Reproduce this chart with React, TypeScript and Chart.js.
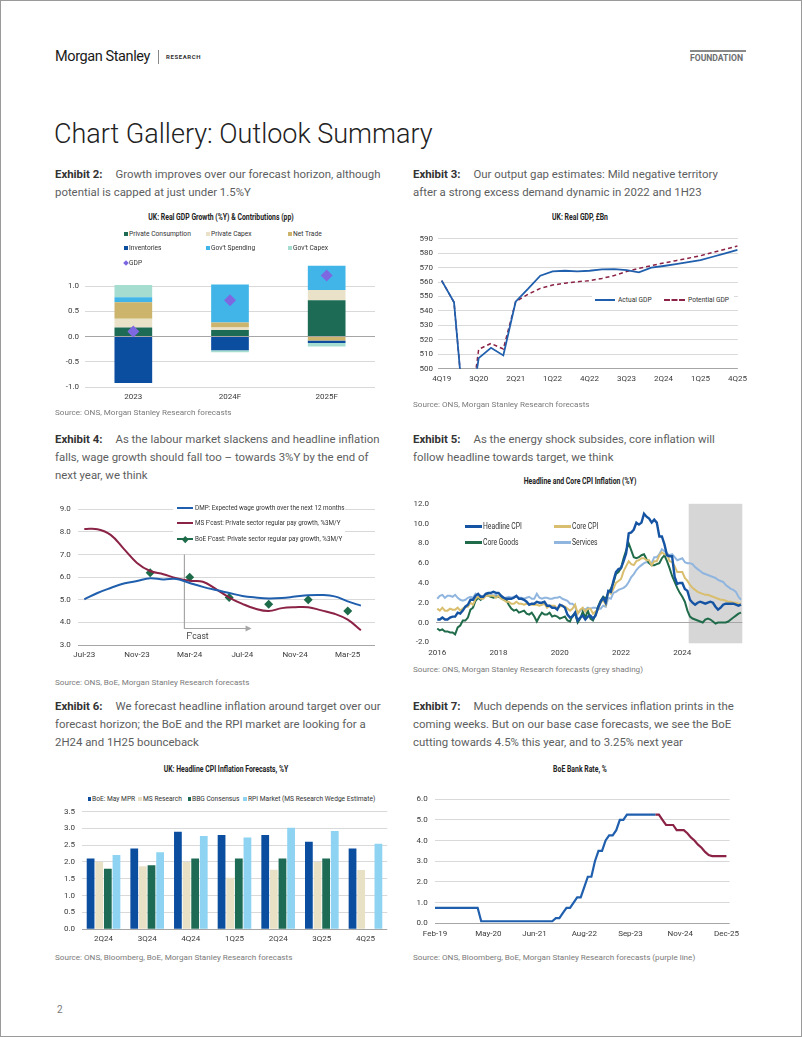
import React, { useEffect, useRef } from 'react';
import { Chart, registerables } from 'chart.js';

Chart.register(...registerables);

const BODY_FONT = "Roboto, 'Noto Sans', 'DejaVu Sans', sans-serif";
const CHART_FONT = "Roboto, 'Noto Sans', sans-serif";
Chart.defaults.font.family = CHART_FONT;
Chart.defaults.font.size = 8;
Chart.defaults.color = '#404040';

const GRID = '#d9d9d9';
const AXIS = '#a6a6a6';
const CONDENSE = 0.83;

// ---------------- Exhibit 2 data ----------------
const gdpYears = ['2023', '2024F', '2025F'];
const gdpSeriesNames = ['Private Consumption', 'Private Capex', 'Net Trade', 'Inventories', "Gov't Spending", "Gov't Capex"];
const contribPrivateConsumption = [0.18, 0.13, 0.72];
const contribPrivateCapex = [0.17, 0.05, 0.2];
const contribNetTrade = [0.33, 0.1, -0.08];
const contribInventories = [-0.92, -0.27, -0.05];
const contribGovSpending = [0.1, 0.75, 0.48];
const contribGovCapex = [0.24, -0.04, -0.07];
const gdpGrowth = [0.1, 0.72, 1.21];
const gdpColors = ['#1E6B55', '#E9E2C8', '#CDB46C', '#0B4EA0', '#41B5E8', '#A5DDD1'];
const gdpDiamondColor = '#7E68E2';

// ---------------- Exhibit 3 data ----------------
const gdpQuarters = ['4Q19', '1Q20', '2Q20', '3Q20', '4Q20', '1Q21', '2Q21', '3Q21', '4Q21', '1Q22', '2Q22', '3Q22', '4Q22', '1Q23', '2Q23', '3Q23', '4Q23', '1Q24', '2Q24', '3Q24', '4Q24', '1Q25', '2Q25', '3Q25', '4Q25'];
const gdpQuarterTicks = ['4Q19', '3Q20', '2Q21', '1Q22', '4Q22', '3Q23', '2Q24', '1Q25', '4Q25'];
const actualGdp = [561, 546, 450, 507.3, 514.5, 509.2, 546.4, 555.2, 564.4, 567.4, 567.8, 567.4, 567.8, 568.8, 569.0, 568.3, 566.7, 569.9, 571.1, 572.4, 573.8, 575.2, 577.5, 579.8, 582.2];
const potentialGdp = [561, 546, 450, 513.4, 517.5, 513.6, 546.4, 551.5, 555.6, 557.9, 559.2, 560.2, 560.9, 562.5, 564.5, 567.3, 569.5, 571.3, 573.2, 574.8, 576.5, 578.2, 580.5, 582.7, 584.9];

// ---------------- Exhibit 4 data ----------------
const wageMonths = ['Jul-23', 'Aug-23', 'Sep-23', 'Oct-23', 'Nov-23', 'Dec-23', 'Jan-24', 'Feb-24', 'Mar-24', 'Apr-24', 'May-24', 'Jun-24', 'Jul-24', 'Aug-24', 'Sep-24', 'Oct-24', 'Nov-24', 'Dec-24', 'Jan-25', 'Feb-25', 'Mar-25', 'Apr-25'];
const wageTickMonths = ['Jul-23', 'Nov-23', 'Mar-24', 'Jul-24', 'Nov-24', 'Mar-25'];
const dmpExpectedWage = [5.02, 5.3, 5.52, 5.72, 5.83, 5.95, 5.9, 5.92, 5.74, 5.57, 5.43, 5.3, 5.17, 5.1, 5.06, 5.08, 5.14, 5.2, 5.21, 5.15, 4.93, 4.74];
const msPayForecast = [8.13, 8.12, 7.87, 7.25, 6.63, 6.27, 6.13, 5.95, 5.84, 5.8, 5.47, 5.1, 4.82, 4.6, 4.5, 4.63, 4.67, 4.67, 4.53, 4.38, 4.12, 3.65];
const boeWageMonths = ['Dec-23', 'Mar-24', 'Jun-24', 'Sep-24', 'Dec-24', 'Mar-25'];
const boePayForecast = [6.2, 6.0, 5.1, 4.8, 5.0, 4.5];
const wageSeriesNames = ['DMP: Expected wage growth over the next 12 months', "MS F'cast: Private sector regular pay growth, %3M/Y", "BoE F'cast: Private sector regular pay growth, %3M/Y"];
const wageColors = ['#1F5FAD', '#8B2346', '#1E6B4A'];
const fcastFrom = 7.6; // forecast marker position (between Feb-24 and Mar-24)
const fcastTo = 12.7;

// ---------------- Exhibit 5 data ----------------
const cpiStartYear = 2016;
const cpiTickYears = ['2016', '2018', '2020', '2022', '2024'];
const cpiForecastStart = 98.5; // forecast shading from end of Mar-2024
const cpiHeadline = [
  0.3, 0.3, 0.5, 0.3, 0.3, 0.5, 0.6, 0.6, 1.0, 0.9, 1.2, 1.6,
  1.8, 2.3, 2.3, 2.7, 2.9, 2.6, 2.6, 2.9, 3.0, 3.0, 3.1, 3.0,
  3.0, 2.7, 2.5, 2.4, 2.4, 2.4, 2.5, 2.7, 2.4, 2.4, 2.3, 2.1,
  1.8, 1.9, 1.9, 2.1, 2.0, 2.0, 2.1, 1.7, 1.7, 1.5, 1.5, 1.3,
  1.8, 1.7, 1.5, 0.8, 0.5, 0.6, 1.0, 0.2, 0.5, 0.7, 0.3, 0.6,
  0.7, 0.4, 0.7, 1.5, 2.1, 2.5, 2.0, 3.2, 3.1, 4.2, 5.1, 5.4,
  5.5, 6.2, 7.0, 9.0, 9.1, 9.4, 10.1, 9.9, 10.1, 11.0, 10.7, 10.5,
  10.1, 10.4, 10.1, 8.7, 8.7, 7.9, 6.8, 6.7, 6.7, 4.6, 3.9, 4.0,
  4.0, 3.4, 3.2, 2.3, 2.0, 1.8, 2.0, 2.1, 2.0, 1.9, 2.0, 2.1,
  2.0, 1.6, 1.3, 1.5, 1.8, 1.9, 1.9, 1.9, 1.9, 1.8, 1.7, 1.8,
];
const cpiCore = [
  1.4, 1.2, 1.5, 1.2, 1.2, 1.4, 1.3, 1.3, 1.5, 1.2, 1.4, 1.6,
  1.6, 2.0, 1.8, 2.4, 2.6, 2.4, 2.4, 2.7, 2.7, 2.7, 2.7, 2.5,
  2.7, 2.4, 2.3, 2.1, 2.1, 1.9, 1.9, 2.1, 1.9, 1.9, 1.8, 1.9,
  1.9, 1.8, 1.8, 1.8, 1.7, 1.8, 1.9, 1.5, 1.7, 1.7, 1.7, 1.4,
  1.6, 1.7, 1.6, 1.4, 1.2, 1.4, 1.8, 0.9, 1.3, 1.5, 1.1, 1.4,
  1.4, 0.9, 1.1, 1.3, 2.0, 2.3, 1.8, 3.1, 2.9, 3.4, 4.0, 4.2,
  4.4, 5.2, 5.7, 6.2, 5.9, 5.8, 6.2, 6.3, 6.5, 6.5, 6.3, 6.3,
  5.8, 6.2, 6.2, 6.8, 7.1, 6.9, 6.9, 6.2, 6.1, 5.7, 5.1, 5.1,
  5.1, 4.5, 4.2, 3.8, 3.5, 3.3, 3.1, 3.0, 2.9, 2.8, 2.8, 2.7,
  2.6, 2.5, 2.4, 2.3, 2.3, 2.2, 2.1, 2.1, 2.0, 2.0, 1.9, 1.9,
];
const cpiCoreGoods = [
  -0.6, -0.8, -0.7, -0.9, -0.9, -1.0, -1.0, -1.2, -0.5, -0.3, 0.2, 0.2,
  0.5, 1.3, 1.5, 2.2, 2.5, 2.3, 2.6, 2.8, 2.7, 2.6, 2.5, 2.6,
  2.6, 2.5, 2.3, 2.3, 1.8, 1.4, 1.2, 1.3, 1.0, 1.1, 1.2, 0.9,
  0.8, 1.0, 0.6, 0.1, 0.6, 1.0, 0.8, 0.8, 1.0, 0.6, 0.7, 0.6,
  0.4, 0.5, 0.6, 0.2, 0.1, 0.7, 0.9, 0.0, 0.4, 1.1, 0.5, 1.2,
  0.4, 0.2, 0.8, 1.6, 2.2, 2.6, 2.4, 3.0, 3.4, 4.0, 4.9, 5.1,
  5.5, 6.5, 7.3, 8.0, 7.3, 6.6, 6.5, 6.6, 6.8, 6.9, 6.4, 6.0,
  5.8, 5.8, 5.9, 6.0, 6.5, 6.8, 6.2, 5.5, 4.7, 4.1, 3.5, 3.0,
  2.6, 2.1, 1.2, 0.6, 0.4, 0.3, 0.2, 0.1, 0.0, 0.3, 0.4, 0.3,
  0.1, -0.1, 0.0, 0.0, 0.0, 0.0, 0.1, 0.3, 0.5, 0.7, 0.9, 1.0,
];
const cpiServices = [
  2.4, 2.7, 2.8, 2.5, 2.7, 2.7, 2.6, 2.8, 2.5, 2.3, 2.2, 2.3,
  2.5, 2.6, 2.5, 2.9, 2.7, 2.7, 2.6, 2.7, 2.8, 2.8, 2.7, 2.8,
  2.7, 2.6, 2.5, 2.5, 2.6, 2.5, 2.6, 2.6, 2.5, 2.5, 2.4, 2.5,
  2.6, 2.4, 2.4, 2.9, 2.5, 2.4, 2.5, 2.5, 2.4, 2.4, 2.5, 2.5,
  2.6, 2.4, 2.3, 2.2, 1.9, 1.9, 1.6, 0.9, 1.2, 1.4, 1.3, 1.5,
  1.4, 1.5, 1.5, 1.4, 1.4, 1.7, 1.6, 2.5, 2.4, 3.0, 3.1, 3.3,
  3.4, 3.5, 3.7, 4.1, 4.6, 4.9, 5.3, 5.6, 5.8, 6.0, 6.1, 6.0,
  6.0, 6.6, 6.6, 6.9, 7.4, 7.2, 7.0, 6.8, 6.9, 6.6, 6.3, 6.4,
  6.5, 6.1, 6.0, 6.0, 5.9, 5.6, 5.4, 5.2, 5.0, 4.9, 4.8, 4.7,
  4.6, 4.5, 4.3, 4.2, 4.1, 3.8, 3.6, 3.4, 3.3, 3.1, 2.6, 2.3,
];
const cpiSeriesNames = ['Headline CPI', 'Core CPI', 'Core Goods', 'Services'];
const cpiColors = ['#1553A3', '#D8BE6E', '#1F6B4A', '#90B6DF'];

// ---------------- Exhibit 6 data ----------------
const cpiFcQuarters = ['2Q24', '3Q24', '4Q24', '1Q25', '2Q24', '3Q25', '4Q25'];
const fcBoeMpr = [2.1, 2.4, 2.9, 2.8, 2.8, 2.6, 2.4];
const fcMsResearch = [2.0, 1.87, 2.0, 1.53, 1.77, 2.0, 1.76];
const fcBbgConsensus = [1.8, 1.9, 2.1, 2.1, 2.1, 2.1, null];
const fcRpiMarket = [2.21, 2.29, 2.77, 2.73, 3.02, 2.92, 2.54];
const fcSeriesNames = ['BoE: May MPR', 'MS Research', 'BBG Consensus', 'RPI Market (MS Research Wedge Estimate)'];
const fcColors = ['#0B4EA0', '#E9E1C6', '#1E6B55', '#8ED3F2'];

// ---------------- Exhibit 7 data ----------------
const MONTH_NAMES = ['Jan', 'Feb', 'Mar', 'Apr', 'May', 'Jun', 'Jul', 'Aug', 'Sep', 'Oct', 'Nov', 'Dec'];
const bankRateMonths = Array.from({ length: 83 }, (_, i) => `${MONTH_NAMES[(1 + i) % 12]}-${String(2019 + Math.floor((1 + i) / 12)).slice(2)}`);
const bankRateTicks = ['Feb-19', 'May-20', 'Jun-21', 'Aug-22', 'Sep-23', 'Nov-24', 'Dec-25'];
const bankRateActualStart = 'Feb-19';
const bankRateActual = [
  0.75, 0.75, 0.75, 0.75, 0.75, 0.75, 0.75, 0.75, 0.75, 0.75, 0.75, 0.75, 0.75,
  0.1, 0.1, 0.1, 0.1, 0.1, 0.1, 0.1, 0.1, 0.1, 0.1, 0.1, 0.1, 0.1, 0.1, 0.1, 0.1, 0.1, 0.1, 0.1, 0.1, 0.1,
  0.25, 0.25, 0.5, 0.75, 0.75, 1.0, 1.25, 1.25, 1.75, 2.25, 2.25, 3.0, 3.5, 3.5, 4.0, 4.25, 4.25, 4.5, 5.0, 5.0,
  5.25, 5.25, 5.25, 5.25, 5.25, 5.25, 5.25, 5.25, 5.25,
];
const bankRateForecastStart = 'Apr-24';
const bankRateForecast = [5.25, 5.25, 5.0, 4.75, 4.75, 4.75, 4.5, 4.5, 4.5, 4.35, 4.15, 4.0, 3.8, 3.65, 3.45, 3.3, 3.25, 3.25, 3.25, 3.25, 3.25];

// ---------------- helpers ----------------
const toXY = (vals: (number | null)[], start = 0) => vals.map((v, i) => ({ x: start + i, y: v }));

function baseOptions(padding: any) {
  return {
    responsive: false,
    animation: false,
    devicePixelRatio: 1,
    events: [],
    layout: { padding },
    plugins: { legend: { display: false }, tooltip: { enabled: false }, title: { display: false } },
  };
}

function yAxis(o: { min: number; max: number; step: number; width: number; pad: number; base: number; decimals?: number; hideGrid?: boolean; maxTick?: number }) {
  return {
    min: o.min,
    max: o.max,
    afterBuildTicks: (ax: any) => {
      if (o.maxTick !== undefined) ax.ticks = ax.ticks.filter((t: any) => t.value <= o.maxTick! + 1e-9);
    },
    ticks: { stepSize: o.step, padding: o.pad, color: '#3a3a3a', font: { size: 8 }, callback: (v: any) => Number(v).toFixed(o.decimals ?? 1) },
    grid: {
      drawTicks: false,
      lineWidth: 1,
      color: (ctx: any) => (ctx.tick && Math.abs(ctx.tick.value - o.base) < 1e-9 ? AXIS : o.hideGrid ? 'rgba(0,0,0,0)' : GRID),
    },
    border: { display: false },
    afterFit: (s: any) => { s.width = o.width; },
  };
}

function xLinear(o: { min: number; max: number; ticks: number[]; label: (v: number) => string; height: number; pad: number }) {
  return {
    type: 'linear',
    min: o.min,
    max: o.max,
    afterBuildTicks: (ax: any) => { ax.ticks = o.ticks.map((v) => ({ value: v })); },
    ticks: { autoSkip: false, maxRotation: 0, padding: o.pad, color: '#3a3a3a', font: { size: 8 }, callback: (v: any) => o.label(Number(v)) },
    grid: { display: false, drawTicks: false },
    border: { display: false },
    afterFit: (s: any) => { s.height = o.height; },
  };
}

function xCategory(height: number, pad: number, stacked = false) {
  return {
    stacked,
    grid: { display: false, drawTicks: false },
    border: { display: false },
    ticks: { padding: pad, color: '#3a3a3a', font: { size: 8 }, maxRotation: 0 },
    afterFit: (s: any) => { s.height = height; },
  };
}

function ChartCanvas({ left, top, width, height, make }: { left: number; top: number; width: number; height: number; make: () => any }) {
  const ref = useRef<HTMLCanvasElement>(null);
  useEffect(() => {
    const chart = new Chart(ref.current as HTMLCanvasElement, make());
    return () => chart.destroy();
  }, []);
  return <canvas ref={ref} width={width} height={height} style={{ position: 'absolute', left, top, width, height }} />;
}

// ---------------- chart configs ----------------
function makeGdpContrib() {
  const series = [contribPrivateConsumption, contribPrivateCapex, contribNetTrade, contribInventories, contribGovSpending, contribGovCapex];
  return {
    type: 'bar',
    data: {
      labels: gdpYears,
      datasets: [
        ...series.map((d, i) => ({ label: gdpSeriesNames[i], data: d, backgroundColor: gdpColors[i], stack: 'contrib', borderWidth: 0 })),
        { type: 'line', label: 'GDP', data: gdpGrowth, showLine: false, pointStyle: 'rectRot', pointRadius: 6, backgroundColor: gdpDiamondColor, borderColor: gdpDiamondColor, borderWidth: 0, stack: 'gdp', order: -1 },
      ],
    },
    options: {
      ...baseOptions({ left: 0, top: 7, right: 12, bottom: 0 }),
      datasets: { bar: { categoryPercentage: 1, barPercentage: 0.39 } },
      scales: {
        x: xCategory(23, 5, true),
        y: { stacked: true, ...yAxis({ min: -1, max: 1.5, step: 0.5, width: 33, pad: 6, base: 0, maxTick: 1 }) },
      },
    },
  };
}

function makeRealGdp() {
  return {
    type: 'line',
    data: {
      datasets: [
        { label: 'Actual GDP', data: toXY(actualGdp), borderColor: '#1F5FAD', borderWidth: 1.8, pointRadius: 0, tension: 0 },
        { label: 'Potential GDP', data: toXY(potentialGdp), borderColor: '#8B2346', borderWidth: 1.5, borderDash: [4, 3], pointRadius: 0, tension: 0 },
      ],
    },
    options: {
      ...baseOptions({ left: 0, top: 10.7, right: 13, bottom: 0 }),
      scales: {
        x: xLinear({ min: -0.3, max: 24.03, ticks: gdpQuarterTicks.map((q) => gdpQuarters.indexOf(q)), label: (v) => gdpQuarters[v] ?? '', height: 19.3, pad: 5 }),
        y: yAxis({ min: 500, max: 590, step: 10, width: 36, pad: 5, base: 500, decimals: 0 }),
      },
    },
  };
}

const fcastPlugin = {
  id: 'fcastMarker',
  beforeDatasetsDraw(chart: any) {
    const { ctx, scales } = chart;
    const x0 = scales.x.getPixelForValue(fcastFrom);
    const x1 = scales.x.getPixelForValue(fcastTo);
    const yTop = scales.y.getPixelForValue(7.0);
    const yBot = scales.y.getPixelForValue(3.73);
    ctx.save();
    ctx.strokeStyle = '#a6a6a6';
    ctx.lineWidth = 1.2;
    ctx.beginPath();
    ctx.moveTo(x0, yTop);
    ctx.lineTo(x0, yBot);
    ctx.lineTo(x1 - 4, yBot);
    ctx.stroke();
    ctx.fillStyle = '#a6a6a6';
    ctx.beginPath();
    ctx.moveTo(x1, yBot);
    ctx.lineTo(x1 - 6, yBot - 3);
    ctx.lineTo(x1 - 6, yBot + 3);
    ctx.closePath();
    ctx.fill();
    ctx.fillStyle = '#404040';
    ctx.font = `8.5px ${CHART_FONT}`;
    ctx.textAlign = 'left';
    ctx.textBaseline = 'middle';
    ctx.fillText("F'cast", x0 + 2, yBot + 8);
    ctx.restore();
  },
};

function makeWage() {
  return {
    type: 'line',
    data: {
      datasets: [
        { label: wageSeriesNames[0], data: toXY(dmpExpectedWage), borderColor: wageColors[0], borderWidth: 2, pointRadius: 0, tension: 0.4 },
        { label: wageSeriesNames[1], data: toXY(msPayForecast), borderColor: wageColors[1], borderWidth: 2, pointRadius: 0, tension: 0.4 },
        {
          label: wageSeriesNames[2],
          data: boeWageMonths.map((m, i) => ({ x: wageMonths.indexOf(m), y: boePayForecast[i] })),
          showLine: false, pointStyle: 'rectRot', pointRadius: 4.5, backgroundColor: wageColors[2], borderColor: wageColors[2], borderWidth: 0,
        },
      ],
    },
    plugins: [fcastPlugin],
    options: {
      ...baseOptions({ left: 0, top: 10.3, right: 10, bottom: 0 }),
      scales: {
        x: xLinear({ min: -0.456, max: 22.07, ticks: wageTickMonths.map((m) => wageMonths.indexOf(m)), label: (v) => wageMonths[v] ?? '', height: 20, pad: 5 }),
        y: yAxis({ min: 3, max: 9, step: 1, width: 30.3, pad: 7.5, base: 3 }),
      },
    },
  };
}

const shadePlugin = {
  id: 'forecastShade',
  beforeDraw(chart: any) {
    const { ctx, chartArea, scales } = chart;
    const x0 = scales.x.getPixelForValue(cpiForecastStart);
    ctx.save();
    ctx.fillStyle = '#d6d6d6';
    ctx.fillRect(x0, chartArea.top, chartArea.right - x0, chartArea.bottom - chartArea.top + 1);
    ctx.restore();
  },
};

function makeCpi() {
  const series = [cpiHeadline, cpiCore, cpiCoreGoods, cpiServices];
  const widths = [2.4, 2, 2, 2];
  return {
    type: 'line',
    data: {
      datasets: series.map((d, i) => ({ label: cpiSeriesNames[i], data: toXY(d), borderColor: cpiColors[i], borderWidth: widths[i], pointRadius: 0, tension: 0 })),
    },
    plugins: [shadePlugin],
    options: {
      ...baseOptions({ left: 0, top: 10.7, right: 9.7, bottom: 0 }),
      scales: {
        x: xLinear({ min: -0.5, max: 119.5, ticks: cpiTickYears.map((y) => (Number(y) - cpiStartYear) * 12), label: (v) => String(cpiStartYear + v / 12), height: 19.7, pad: 6 }),
        y: yAxis({ min: -2, max: 12, step: 2, width: 36, pad: 7, base: 0, hideGrid: true }),
      },
    },
  };
}

function makeCpiForecasts() {
  const series = [fcBoeMpr, fcMsResearch, fcBbgConsensus, fcRpiMarket];
  return {
    type: 'bar',
    data: {
      labels: cpiFcQuarters,
      datasets: series.map((d, i) => ({ label: fcSeriesNames[i], data: d, backgroundColor: fcColors[i], borderWidth: 0 })),
    },
    options: {
      ...baseOptions({ left: 0, top: 10, right: 9.7, bottom: 0 }),
      datasets: { bar: { categoryPercentage: 0.79, barPercentage: 0.9 } },
      scales: {
        x: xCategory(20.7, 5),
        y: yAxis({ min: 0, max: 3.5, step: 0.5, width: 33.7, pad: 6.7, base: 0 }),
      },
    },
  };
}

function makeBankRate() {
  return {
    type: 'line',
    data: {
      datasets: [
        { label: 'Bank Rate', data: toXY(bankRateActual, bankRateMonths.indexOf(bankRateActualStart)), borderColor: '#1F5FAD', borderWidth: 2.2, pointRadius: 0, tension: 0 },
        { label: 'MS Forecast', data: toXY(bankRateForecast, bankRateMonths.indexOf(bankRateForecastStart)), borderColor: '#8B2346', borderWidth: 2.2, pointRadius: 0, tension: 0 },
      ],
    },
    options: {
      ...baseOptions({ left: 0, top: 10.7, right: 11.7, bottom: 0 }),
      scales: {
        x: xLinear({ min: 0, max: 82.9, ticks: bankRateTicks.map((m) => bankRateMonths.indexOf(m)), label: (v) => bankRateMonths[v] ?? '', height: 20.7, pad: 6 }),
        y: yAxis({ min: 0, max: 6, step: 1, width: 35, pad: 7.3, base: 0 }),
      },
    },
  };
}

// ---------------- layout pieces ----------------
function Exhibit({ left, top, num, lines }: { left: number; top: number; num: number; lines: string[] }) {
  return (
    <div style={{ position: 'absolute', left, top, fontFamily: BODY_FONT, fontSize: 11.4, lineHeight: '18px', color: '#5d5e60', whiteSpace: 'nowrap' }}>
      {lines.map((l, i) => (
        <div key={i}>
          {i === 0 && <span style={{ fontWeight: 700, color: '#333', marginRight: 13 }}>{`Exhibit ${num}:`}</span>}
          {l}
        </div>
      ))}
    </div>
  );
}

function Txt({ x, y, text, size = 8, color = '#333', bold = false, family = CHART_FONT, sx = CONDENSE }: any) {
  return (
    <div style={{ position: 'absolute', left: x, top: y - 7, height: 14, lineHeight: '14px', fontSize: size, fontFamily: family, color, fontWeight: bold ? 700 : 400, whiteSpace: 'nowrap', transform: `scaleX(${sx})`, transformOrigin: 'left center' }}>{text}</div>
  );
}

function Title({ cx, y, text }: { cx: number; y: number; text: string }) {
  return (
    <div style={{ position: 'absolute', left: cx - 150, width: 300, top: y - 7, height: 14, lineHeight: '14px', textAlign: 'center', fontWeight: 700, fontSize: 8.6, fontFamily: CHART_FONT, color: '#222', whiteSpace: 'nowrap', transform: 'scaleX(0.8)', transformOrigin: 'center center' }}>{text}</div>
  );
}

const Box = ({ x, y, color, s = 4 }: any) => <div style={{ position: 'absolute', left: x, top: y - s / 2, width: s, height: s, background: color }} />;
const Diamond = ({ x, y, color, s = 5 }: any) => <div style={{ position: 'absolute', left: x - s / 2, top: y - s / 2, width: s, height: s, background: color, transform: 'rotate(45deg)' }} />;
const LineSw = ({ x1, x2, y, color, t = 2, dashed = false }: any) => (
  <div style={{ position: 'absolute', left: x1, top: y - t / 2, width: x2 - x1, height: 0, borderTop: `${t}px ${dashed ? 'dashed' : 'solid'} ${color}` }} />
);
const WhiteBox = ({ x, y, w, h }: any) => <div style={{ position: 'absolute', left: x, top: y, width: w, height: h, background: '#fff' }} />;

function Source({ x, y, text }: { x: number; y: number; text: string }) {
  return <Txt x={x} y={y} text={text} size={8.1} color="#7a7a7a" family={BODY_FONT} sx={1} />;
}

export default function App() {
  const gdpLegendCols = [124, 205.5, 288];
  const gdpLegendRows = [234, 248.3];
  const wageLegendRows = [508.3, 523.3, 539.3];
  const cpiLegendPos = [[465, 526], [554.3, 526], [465, 542], [554.3, 542]];
  const fcLegendX = [87.7, 138.3, 187.7, 243.3];

  return (
    <div style={{ position: 'absolute', left: 0, top: 0, width: 802, height: 1037, background: '#fff', overflow: 'hidden' }}>
      <div style={{ position: 'absolute', left: 0, top: 0, width: 802, height: 1037, boxSizing: 'border-box', border: '1px solid #9a9a9a' }} />

      {/* header */}
      <div style={{ position: 'absolute', left: 55, top: 47, height: 20, lineHeight: '20px', fontFamily: BODY_FONT, fontSize: 14.5, color: '#1a1a1a', letterSpacing: -0.4 }}>Morgan Stanley</div>
      <div style={{ position: 'absolute', left: 158, top: 50, width: 1, height: 14, background: '#888' }} />
      <div style={{ position: 'absolute', left: 166, top: 52, height: 10, lineHeight: '10px', fontFamily: BODY_FONT, fontSize: 6, fontWeight: 700, letterSpacing: 0.6, color: '#333' }}>RESEARCH</div>
      <div style={{ position: 'absolute', left: 690, top: 50, width: 56, height: 2, background: '#8a8a8a' }} />
      <div style={{ position: 'absolute', left: 690, top: 53, height: 11, lineHeight: '11px', fontFamily: BODY_FONT, fontSize: 8.6, fontWeight: 700, color: '#6d6e71' }}>FOUNDATION</div>

      <div style={{ position: 'absolute', left: 54, top: 116, height: 36, lineHeight: '36px', fontFamily: BODY_FONT, fontSize: 27, fontWeight: 300, color: '#222' }}>Chart Gallery: Outlook Summary</div>

      {/* exhibit texts */}
      <Exhibit left={55} top={165} num={2} lines={['Growth improves over our forecast horizon, although', 'potential is capped at just under 1.5%Y']} />
      <Exhibit left={413} top={165} num={3} lines={['Our output gap estimates: Mild negative territory', 'after a strong excess demand dynamic in 2022 and 1H23']} />
      <Exhibit left={55} top={430} num={4} lines={['As the labour market slackens and headline inflation', 'falls, wage growth should fall too \u2013 towards 3%Y by the end of', 'next year, we think']} />
      <Exhibit left={413} top={430} num={5} lines={['As the energy shock subsides, core inflation will', 'follow headline towards target, we think']} />
      <Exhibit left={55} top={697} num={6} lines={['We forecast headline inflation around target over our', 'forecast horizon; the BoE and the RPI market are looking for a', '2H24 and 1H25 bounceback']} />
      <Exhibit left={413} top={697} num={7} lines={['Much depends on the services inflation prints in the', 'coming weeks. But on our base case forecasts, we see the BoE', 'cutting towards 4.5% this year, and to 3.25% next year']} />

      {/* Exhibit 2 */}
      <Title cx={221} y={216.7} text="UK: Real GDP Growth (%Y) & Contributions (pp)" />
      <ChartCanvas left={52} top={250} width={335} height={160} make={makeGdpContrib} />
      {gdpSeriesNames.map((n, i) => (
        <React.Fragment key={n}>
          <Box x={gdpLegendCols[i % 3]} y={gdpLegendRows[Math.floor(i / 3)]} color={gdpColors[i]} />
          <Txt x={gdpLegendCols[i % 3] + 5} y={gdpLegendRows[Math.floor(i / 3)]} text={n} />
        </React.Fragment>
      ))}
      <Diamond x={126} y={262.7} color={gdpDiamondColor} s={4} />
      <Txt x={129} y={262.7} text="GDP" />
      <Source x={55} y={412} text="Source: ONS, Morgan Stanley Research forecasts" />

      {/* Exhibit 3 */}
      <Title cx={580} y={216.7} text="UK: Real GDP, £Bn" />
      <ChartCanvas left={402} top={228} width={350} height={160} make={makeRealGdp} />
      <WhiteBox x={592} y={292} w={142} h={16} />
      <LineSw x1={595} x2={615} y={300} color="#1F5FAD" t={2} />
      <Txt x={617.5} y={300} text="Actual GDP" />
      <LineSw x1={664} x2={685} y={300} color="#8B2346" t={2} dashed />
      <Txt x={687.5} y={300} text="Potential GDP" />
      <Source x={413} y={404} text="Source: ONS, Morgan Stanley Research forecasts" />

      {/* Exhibit 4 */}
      <ChartCanvas left={48} top={497} width={337} height={168} make={makeWage} />
      <WhiteBox x={173} y={501} w={172} h={46} />
      {wageSeriesNames.map((n, i) => (
        <React.Fragment key={n}>
          <LineSw x1={177} x2={193} y={wageLegendRows[i]} color={wageColors[i]} t={2} />
          {i === 2 && <Diamond x={185} y={wageLegendRows[i]} color={wageColors[i]} s={4.5} />}
          <Txt x={194.5} y={wageLegendRows[i]} text={n} size={7.6} />
        </React.Fragment>
      ))}
      <Source x={55} y={682} text="Source: ONS, BoE, Morgan Stanley Research forecasts" />

      {/* Exhibit 5 */}
      <Title cx={580} y={481} text="Headline and Core CPI Inflation (%Y)" />
      <ChartCanvas left={400} top={492} width={352} height={170} make={makeCpi} />
      {cpiSeriesNames.map((n, i) => (
        <React.Fragment key={n}>
          <LineSw x1={cpiLegendPos[i][0]} x2={cpiLegendPos[i][0] + 17} y={cpiLegendPos[i][1]} color={cpiColors[i]} t={3} />
          <Txt x={cpiLegendPos[i][0] + 17.5} y={cpiLegendPos[i][1]} text={n} size={8.2} />
        </React.Fragment>
      ))}
      <Source x={413} y={669} text="Source: ONS, Morgan Stanley Research forecasts (grey shading)" />

      {/* Exhibit 6 */}
      <Title cx={226} y={769.3} text="UK: Headline CPI Inflation Forecasts, %Y" />
      <ChartCanvas left={48} top={800} width={349} height={150} make={makeCpiForecasts} />
      <WhiteBox x={83} y={791} w={300} h={20} />
      {fcSeriesNames.map((n, i) => (
        <React.Fragment key={n}>
          <Box x={fcLegendX[i]} y={799} color={fcColors[i]} s={3.5} />
          <Txt x={fcLegendX[i] + 4.6} y={799} text={n} size={8} />
        </React.Fragment>
      ))}
      <Source x={55} y={957} text="Source: ONS, Bloomberg, BoE, Morgan Stanley Research forecasts" />

      {/* Exhibit 7 */}
      <Title cx={580} y={769.3} text="BoE Bank Rate, %" />
      <ChartCanvas left={400} top={787} width={345} height={157} make={makeBankRate} />
      <Source x={413} y={957} text="Source: ONS, Bloomberg, BoE, Morgan Stanley Research forecasts (purple line)" />

      <div style={{ position: 'absolute', left: 57, top: 1003, height: 14, lineHeight: '14px', fontFamily: BODY_FONT, fontSize: 10, color: '#777' }}>2</div>
    </div>
  );
}
